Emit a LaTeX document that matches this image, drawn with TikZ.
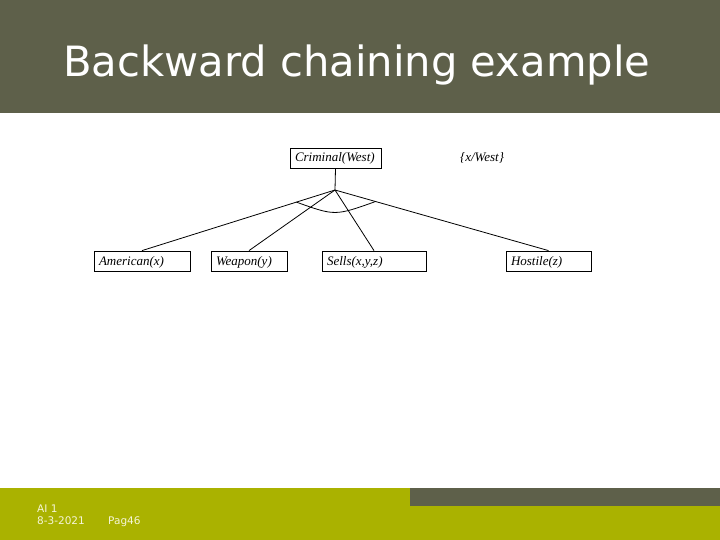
\documentclass[tikz,border=0pt]{standalone}
\usepackage{fontspec}
\setmainfont{Liberation Serif}
\newfontfamily\slidefont{DejaVu Sans}
\definecolor{slidegrey}{RGB}{94,96,74}
\definecolor{slidegreen}{RGB}{170,178,0}
\definecolor{foottext}{RGB}{245,245,215}
\tikzset{
  fact/.style={draw, line width=0.8pt, minimum height=20pt, inner xsep=5pt, inner ysep=0pt,
    text height=10pt, text depth=2pt, align=left, font=\fontsize{13}{15}\selectfont\itshape},
  foot/.style={anchor=base west, inner sep=0pt, text=foottext, font=\slidefont\fontsize{10.5}{12}\selectfont}
}
\begin{document}
\begin{tikzpicture}[x=1pt, y=-1pt]
\useasboundingbox (0,0) rectangle (720,540);

% Kop en voet
\fill[slidegrey] (0,0) rectangle (720,113);
\fill[slidegreen] (0,488) rectangle (720,540);
\fill[slidegrey] (410,488) rectangle (720,506);

\node[anchor=base west, inner sep=0pt, text=white, font=\slidefont\fontsize{41.7}{48}\selectfont] (title) at (63,77) {Backward chaining example};

\node[foot] (vak) at (37,512) {AI 1};
\node[foot] (datum) at (37,524) {8-3-2021};
\node[foot] (pag) at (108,524) {Pag46};

% Bewijsboom
\node[fact, text width=81pt] (crim) at (335.5,158) {Criminal(West)};
\node[anchor=base, inner sep=0pt, font=\fontsize{13}{15}\selectfont\itshape] (subst) at (482,162) {\{x/West\}};

\node[fact, text width=86pt] (amer) at (142,261) {American(x)};
\node[fact, text width=66pt] (weap) at (249,261) {Weapon(y)};
\node[fact, text width=94pt] (sells) at (374,261) {Sells(x,y,z)};
\node[fact, text width=75pt] (host) at (548.5,261) {Hostile(z)};

\coordinate (top) at (335,190);
\draw[line width=0.8pt] (crim.south) -- (top);
\foreach \n in {amer, weap, sells, host}
	\draw[line width=0.8pt] (top) -- (\n.north);

% boog
\path (top) -- (amer.north) coordinate[pos=0.2] (arcL);
\path (top) -- (host.north) coordinate[pos=0.19] (arcR);
\draw[line width=0.8pt] (arcL) .. controls (335,216) .. (arcR);
\end{tikzpicture}
\end{document}
